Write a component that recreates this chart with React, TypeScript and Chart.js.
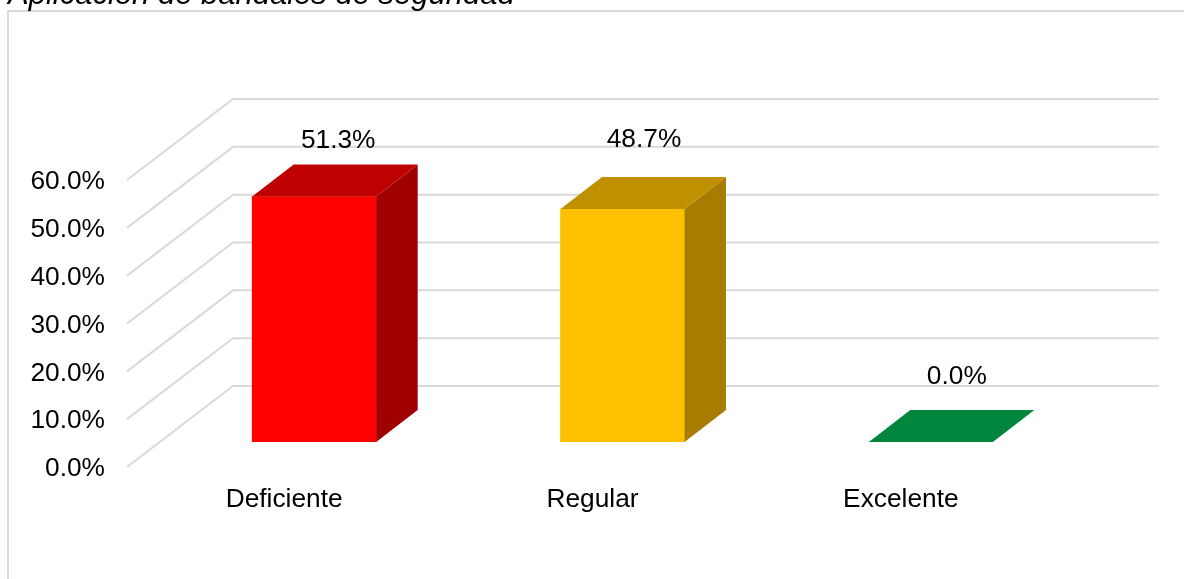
import React, { useEffect, useRef } from "react";
import { Chart, registerables } from "chart.js";

Chart.register(...registerables);

const categories = ["Deficiente", "Regular", "Excelente"];
const percentages = [51.3, 48.7, 0.0];
const frontColors = ["#FF0000", "#FFC000", "#00863D"];
const topColors = ["#BF0000", "#BF9000", "#00863D"];
const sideColors = ["#A00000", "#A67D00", "#00863D"];
const chartTitle = "Aplicación de bandales de seguridad";

const FONT = '"Liberation Sans", Arial, sans-serif';
const FONT_SIZE = 26.3;
const GRID = "#D9D9D9";

// Oblique projection: how far the bars and the back wall sit from the bar's front plane.
const BAR_DEPTH = { x: 41.5, y: -32 };
const WALL_BACK = { x: 81, y: -56 };
const WALL_FRONT = { x: -25, y: 25 };
const WALL_RIGHT = 1159;
const LABEL_SHIFT = [
  [24, -56],
  [21.5, -69],
  [26, -65.5],
];

const polygon = (ctx: CanvasRenderingContext2D, pts: number[][], color: string) => {
  ctx.beginPath();
  pts.forEach(([x, y], i) => (i ? ctx.lineTo(x, y) : ctx.moveTo(x, y)));
  ctx.closePath();
  ctx.fillStyle = color;
  ctx.fill();
};

// Floor and wall grid lines, following the value axis in perspective.
const wallPlugin = {
  id: "wall",
  beforeDatasetsDraw(chart: any) {
    const { ctx, scales } = chart;
    const left = scales.x.left;
    ctx.save();
    ctx.strokeStyle = GRID;
    ctx.lineWidth = 2;
    for (const tick of scales.y.ticks) {
      const y = scales.y.getPixelForValue(tick.value);
      ctx.beginPath();
      ctx.moveTo(left + WALL_FRONT.x - 8, y + WALL_FRONT.y);
      ctx.lineTo(left + WALL_BACK.x - 8, y + WALL_BACK.y);
      ctx.lineTo(WALL_RIGHT, y + WALL_BACK.y);
      ctx.stroke();
    }
    ctx.restore();
  },
};

// Top and side faces extruded from each bar element drawn by Chart.js.
const extrudePlugin = {
  id: "extrude",
  afterDatasetsDraw(chart: any) {
    const { ctx } = chart;
    const bars = chart.getDatasetMeta(0).data;
    bars.forEach((bar: any, i: number) => {
      const half = bar.width / 2;
      const l = bar.x - half;
      const r = bar.x + half;
      const t = bar.y;
      const b = bar.base;
      const { x: dx, y: dy } = BAR_DEPTH;
      polygon(ctx, [[r, t], [r + dx, t + dy], [r + dx, b + dy], [r, b]], sideColors[i]);
      polygon(ctx, [[l, t], [l + dx, t + dy], [r + dx, t + dy], [r, t]], topColors[i]);
    });
  },
};

// Value labels, the border of the frame and the title cut by the top of the page.
const labelsPlugin = {
  id: "labels",
  afterDraw(chart: any) {
    const { ctx } = chart;
    ctx.save();
    ctx.fillStyle = "#000000";
    ctx.font = `${FONT_SIZE}px ${FONT}`;
    ctx.textAlign = "center";
    ctx.textBaseline = "middle";
    chart.getDatasetMeta(0).data.forEach((bar: any, i: number) => {
      const [sx, sy] = LABEL_SHIFT[i];
      ctx.fillText(`${percentages[i].toFixed(1)}%`, bar.x + sx, bar.y + sy);
    });

    ctx.strokeStyle = GRID;
    ctx.lineWidth = 2;
    ctx.beginPath();
    ctx.moveTo(8, 579);
    ctx.lineTo(8, 11);
    ctx.lineTo(1184, 11);
    ctx.stroke();

    ctx.font = `italic 31px ${FONT}`;
    ctx.textAlign = "left";
    ctx.textBaseline = "alphabetic";
    ctx.fillStyle = "#000000";
    ctx.fillText(chartTitle, 8, 4);
    ctx.restore();
  },
};

export default function App() {
  const canvasRef = useRef<HTMLCanvasElement>(null);

  useEffect(() => {
    const chart = new Chart(canvasRef.current!, {
      type: "bar",
      data: {
        labels: categories,
        datasets: [
          {
            data: percentages,
            backgroundColor: frontColors,
            barThickness: 124,
          },
        ],
      },
      options: {
        animation: false,
        responsive: false,
        events: [],
        layout: { padding: { left: 0, right: 99, top: 155, bottom: 0 } },
        plugins: { legend: { display: false }, tooltip: { enabled: false } },
        scales: {
          x: {
            grid: { display: false, drawTicks: false },
            border: { display: false },
            afterFit: (s: any) => {
              s.height = 137;
            },
            ticks: {
              color: "#000000",
              font: { family: FONT, size: FONT_SIZE },
              padding: 42,
              labelOffset: -30,
              maxRotation: 0,
            },
          },
          y: {
            min: 0,
            max: 60,
            grid: { display: false, drawTicks: false },
            border: { display: false },
            afterFit: (s: any) => {
              s.width = 160;
            },
            ticks: {
              stepSize: 10,
              color: "#000000",
              font: { family: FONT, size: FONT_SIZE },
              padding: 55,
              labelOffset: 27,
              callback: (v: any) => `${Number(v).toFixed(1)}%`,
            },
          },
        },
      },
      plugins: [wallPlugin, extrudePlugin, labelsPlugin],
    } as any);
    return () => chart.destroy();
  }, []);

  return (
    <div style={{ position: "absolute", left: 0, top: 0, width: 1184, height: 579, background: "#fff" }}>
      <canvas ref={canvasRef} width={1184} height={579} style={{ display: "block" }} />
    </div>
  );
}
